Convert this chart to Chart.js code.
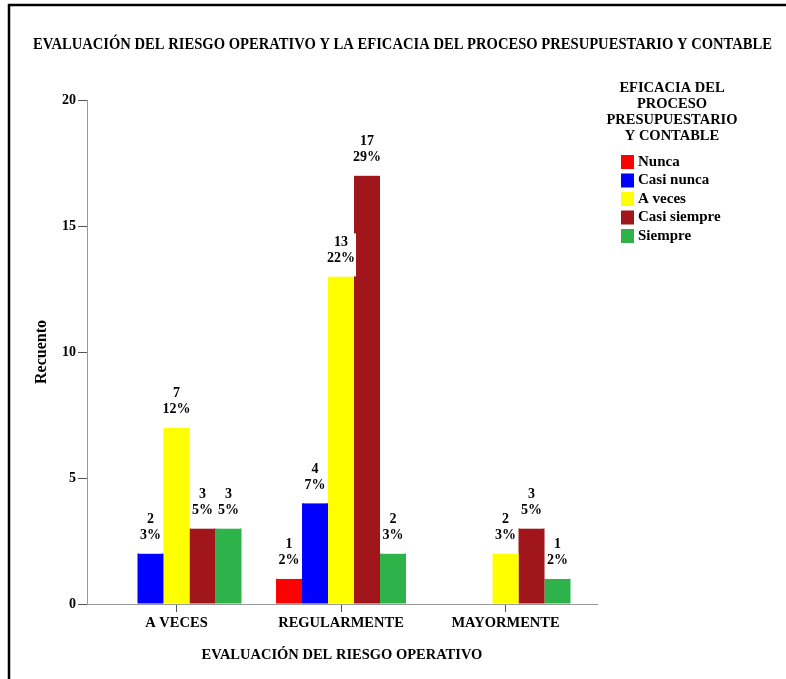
<!DOCTYPE html>
<html>
<head>
<meta charset="utf-8">
<script src="https://cdn.jsdelivr.net/npm/chart.js@4/dist/chart.umd.min.js"></script>
<style>
  html, body { margin: 0; padding: 0; background: #fff; }
  canvas { display: block; }
</style>
</head>
<body>
<canvas id="chart" width="786" height="679"></canvas>
<script>
// Categories of the operational-risk evaluation (x axis)
const categories = ['A VECES', 'REGULARMENTE', 'MAYORMENTE'];

// Counts per level of budget/accounting process efficacy
const nunca       = [0, 1, 0];
const casiNunca   = [2, 4, 0];
const aVeces      = [7, 13, 2];
const casiSiempre = [3, 17, 3];
const siempre     = [3, 2, 1];

const seriesNames = ['Nunca', 'Casi nunca', 'A veces', 'Casi siempre', 'Siempre'];
const seriesColors = ['#ff0000', '#0000ff', '#ffff00', '#a0161b', '#2db34a'];
const yTicks = [0, 5, 10, 15, 20];

const titleText = 'EVALUACIÓN DEL RIESGO OPERATIVO Y LA EFICACIA DEL PROCESO PRESUPUESTARIO Y CONTABLE';
const legendTitle = ['EFICACIA DEL', 'PROCESO', 'PRESUPUESTARIO', 'Y CONTABLE'];
const xTitle = 'EVALUACIÓN DEL RIESGO OPERATIVO';
const yTitle = 'Recuento';

const allSeries = [nunca, casiNunca, aVeces, casiSiempre, siempre];
const grandTotal = allSeries.reduce((s, arr) => s + arr.reduce((a, b) => a + b, 0), 0);

const SERIF = "'Liberation Serif', 'Times New Roman', serif";
Chart.defaults.font.family = SERIF;
Chart.defaults.color = '#000';

// White page, frame lines along the top and left edges, and the main title
const framePlugin = {
  id: 'frame',
  beforeDraw(chart) {
    const ctx = chart.ctx;
    ctx.save();
    ctx.fillStyle = '#fff';
    ctx.fillRect(0, 0, chart.width, chart.height);
    ctx.strokeStyle = '#000';
    ctx.lineWidth = 2.5;
    ctx.beginPath();
    ctx.moveTo(9, chart.height);
    ctx.lineTo(9, 5);
    ctx.lineTo(chart.width, 5);
    ctx.stroke();

    // title set in a narrow bold serif across the page
    ctx.font = 'bold 17px ' + SERIF;
    ctx.fillStyle = '#000';
    ctx.textAlign = 'center';
    ctx.textBaseline = 'middle';
    const tw = ctx.measureText(titleText).width;
    const sx = Math.min(1, 739 / tw);
    ctx.translate(402.5, 45);
    ctx.scale(sx, 1);
    ctx.fillText(titleText, 0, 0);
    ctx.restore();
  }
};

// Count and percentage above each bar, on a white backing box
const barLabelPlugin = {
  id: 'barLabels',
  afterDatasetsDraw(chart) {
    const ctx = chart.ctx;
    ctx.save();
    ctx.font = 'bold 14px ' + SERIF;
    ctx.textAlign = 'center';
    ctx.textBaseline = 'middle';
    chart.data.datasets.forEach((ds, di) => {
      const meta = chart.getDatasetMeta(di);
      ds.data.forEach((v, i) => {
        if (!v) return;
        const bar = meta.data[i];
        const pct = Math.round(v / grandTotal * 100) + '%';
        const l1 = String(v);
        const y2 = bar.y - 18;
        const y1 = y2 - 16;
        const w = Math.max(ctx.measureText(l1).width, ctx.measureText(pct).width);
        const half = w / 2 + 1;
        ctx.fillStyle = '#fff';
        ctx.fillRect(bar.x - half, y1 - 9, half * 2, bar.y - (y1 - 9));
        ctx.fillStyle = '#000';
        ctx.fillText(l1, bar.x, y1);
        ctx.fillText(pct, bar.x, y2);
      });
    });
    ctx.restore();
  }
};

// Legend block on the right with its multi-line title
const legendPlugin = {
  id: 'sideLegend',
  afterDraw(chart) {
    const ctx = chart.ctx;
    ctx.save();
    ctx.font = 'bold 14.5px ' + SERIF;
    ctx.fillStyle = '#000';
    ctx.textAlign = 'center';
    ctx.textBaseline = 'middle';
    legendTitle.forEach((t, i) => ctx.fillText(t, 672, 88 + i * 16));
    ctx.font = 'bold 15px ' + SERIF;
    ctx.textAlign = 'left';
    chart.data.datasets.forEach((ds, i) => {
      const cy = 162 + i * 18.5;
      ctx.fillStyle = ds.backgroundColor;
      ctx.fillRect(621, cy - 7, 13, 14);
      ctx.fillStyle = '#000';
      ctx.fillText(ds.label, 638, cy);
    });
    ctx.restore();
  }
};

new Chart(document.getElementById('chart'), {
  type: 'bar',
  data: {
    labels: categories,
    datasets: allSeries.map((arr, i) => ({
      label: seriesNames[i],
      data: arr,
      backgroundColor: seriesColors[i],
      borderWidth: 0,
      barPercentage: 1,
      categoryPercentage: 0.79
    }))
  },
  options: {
    responsive: false,
    animation: false,
    devicePixelRatio: 1,
    layout: { padding: { left: 0, right: 189, top: 100, bottom: 0 } },
    plugins: {
      legend: { display: false },
      tooltip: { enabled: false },
      title: { display: false }
    },
    scales: {
      x: {
        offset: true,
        // wider margin before the first category than after the last one
        afterBuildTicks(scale) { scale._startValue = -0.544; scale._valueRange = 3.1; },
        grid: { offset: false, drawOnChartArea: false, drawTicks: true, tickLength: 8, color: '#555' },
        border: { color: '#999', width: 1 },
        ticks: { padding: 3, color: '#000', font: { family: SERIF, size: 14.5, weight: 'bold' } },
        title: {
          display: true, text: xTitle, color: '#000',
          font: { family: SERIF, size: 14.5, weight: 'bold', lineHeight: 1.2 },
          padding: { top: 0, bottom: 15.3 }
        },
        afterFit(scale) { scale.height = 75; }
      },
      y: {
        min: 0, max: 20,
        afterBuildTicks(scale) { scale.ticks = yTicks.map(v => ({ value: v })); },
        grid: { drawOnChartArea: false, drawTicks: true, tickLength: 9, color: '#555' },
        border: { color: '#999', width: 1 },
        ticks: { padding: 2, color: '#000', font: { family: SERIF, size: 14, weight: 'bold' } },
        title: {
          display: true, text: yTitle, color: '#000',
          font: { family: SERIF, size: 16, weight: 'bold', lineHeight: 1.2 },
          padding: { top: 32.4, bottom: 0 }
        },
        afterFit(scale) { scale.width = 87; }
      }
    }
  },
  plugins: [framePlugin, barLabelPlugin, legendPlugin]
});
</script>
</body>
</html>
